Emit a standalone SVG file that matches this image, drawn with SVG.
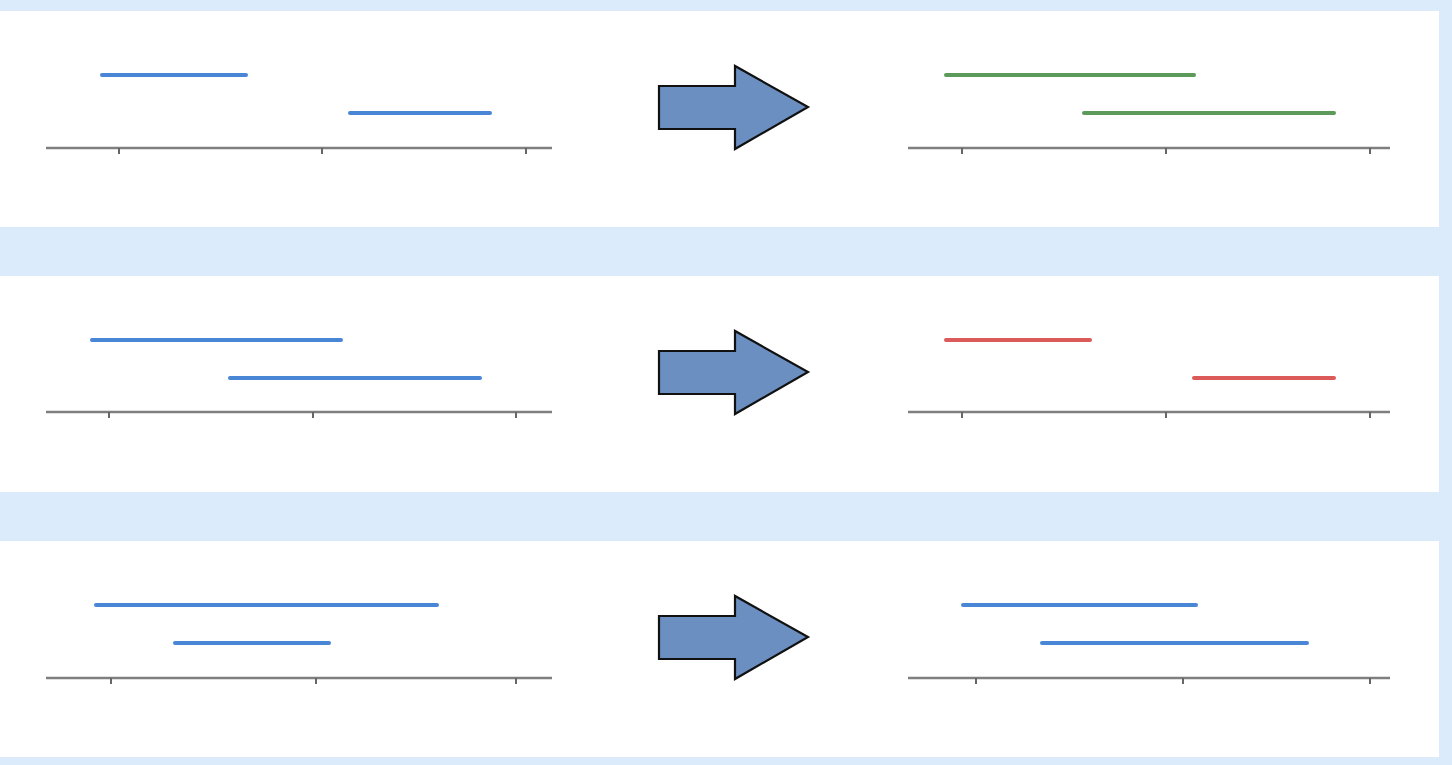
<svg xmlns="http://www.w3.org/2000/svg" width="1452" height="765" viewBox="0 0 1452 765">
<style>
.panel{fill:#ffffff}
.axis{stroke:#7f7f7f;stroke-width:2.5;fill:none}
.tick{stroke:#666;stroke-width:2;fill:none}
.seg{stroke-width:4;stroke-linecap:round;fill:none}
.blue{stroke:#4a86d6}
.green{stroke:#5c9a5c}
.red{stroke:#dc5a5a}
.arrow{fill:#6b8fc0;stroke:#111;stroke-width:2.2;stroke-linejoin:miter}
</style>
<rect width="1452" height="765" fill="#dcebfb"/>

<g id="row1">
  <rect class="panel" x="0" y="11" width="1439" height="216"/>
  <g id="row1-left">
    <line class="axis" x1="46" y1="148" x2="552" y2="148"/>
    <path class="tick" d="M119 148v6M322 148v6M526 148v6"/>
    <line class="seg blue" x1="102" y1="75" x2="246" y2="75"/>
    <line class="seg blue" x1="350" y1="113" x2="490" y2="113"/>
  </g>
  <g id="row1-arrow">
    <polygon class="arrow" points="659,86 735,86 735,66 808,107 735,149 735,129 659,129"/>
  </g>
  <g id="row1-right">
    <line class="axis" x1="908" y1="148" x2="1390" y2="148"/>
    <path class="tick" d="M962 148v6M1166 148v6M1370 148v6"/>
    <line class="seg green" x1="946" y1="75" x2="1194" y2="75"/>
    <line class="seg green" x1="1084" y1="113" x2="1334" y2="113"/>
  </g>
</g>

<g id="row2">
  <rect class="panel" x="0" y="276" width="1439" height="216"/>
  <g id="row2-left">
    <line class="axis" x1="46" y1="412" x2="552" y2="412"/>
    <path class="tick" d="M109 412v6M313 412v6M516 412v6"/>
    <line class="seg blue" x1="92" y1="340" x2="341" y2="340"/>
    <line class="seg blue" x1="230" y1="378" x2="480" y2="378"/>
  </g>
  <g id="row2-arrow">
    <polygon class="arrow" points="659,351 735,351 735,331 808,372 735,414 735,394 659,394"/>
  </g>
  <g id="row2-right">
    <line class="axis" x1="908" y1="412" x2="1390" y2="412"/>
    <path class="tick" d="M962 412v6M1166 412v6M1370 412v6"/>
    <line class="seg red" x1="946" y1="340" x2="1090" y2="340"/>
    <line class="seg red" x1="1194" y1="378" x2="1334" y2="378"/>
  </g>
</g>

<g id="row3">
  <rect class="panel" x="0" y="541" width="1439" height="216"/>
  <g id="row3-left">
    <line class="axis" x1="46" y1="678" x2="552" y2="678"/>
    <path class="tick" d="M111 678v6M316 678v6M516 678v6"/>
    <line class="seg blue" x1="96" y1="605" x2="437" y2="605"/>
    <line class="seg blue" x1="175" y1="643" x2="329" y2="643"/>
  </g>
  <g id="row3-arrow">
    <polygon class="arrow" points="659,616 735,616 735,596 808,637 735,679 735,659 659,659"/>
  </g>
  <g id="row3-right">
    <line class="axis" x1="908" y1="678" x2="1390" y2="678"/>
    <path class="tick" d="M976 678v6M1183 678v6M1370 678v6"/>
    <line class="seg blue" x1="963" y1="605" x2="1196" y2="605"/>
    <line class="seg blue" x1="1042" y1="643" x2="1307" y2="643"/>
  </g>
</g>
<g id="connectors"></g>
</svg>
